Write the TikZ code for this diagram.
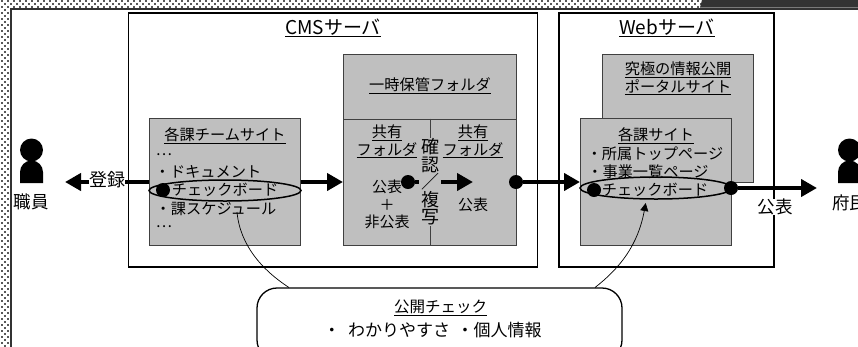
\documentclass[tikz,border=0pt]{standalone}
\usepackage{fontspec}
\setmainfont{Noto Sans CJK JP}
\usetikzlibrary{arrows.meta,shapes.geometric,calc}
\newcommand{\tightlines}{\setlength{\lineskiplimit}{-100pt}}
\tikzset{
 box/.style={draw=black,line width=1.6pt,fill=white,inner sep=0pt},
 gbox/.style={draw=black!75,line width=1pt,fill=black!25,inner sep=0pt},
 lab/.style={font=\fontsize{15.2}{17.5}\selectfont\tightlines,inner sep=0pt,align=center},
 small/.style={font=\fontsize{15}{17.5}\selectfont\tightlines,inner sep=0pt,align=center},
 big/.style={font=\fontsize{17.5}{20}\selectfont,inner sep=0pt,align=center},
 head/.style={font=\fontsize{19}{22}\selectfont,inner sep=0pt,align=center},
 fat/.style={line width=4.5pt,-{Triangle[length=16pt,width=17pt]}},
 fatline/.style={line width=4.5pt},
 dot/.style={circle,fill=black,draw=none,minimum size=14pt,inner sep=0pt},
 ring/.style={ellipse,draw=black,line width=1.5pt,inner sep=0pt},
 thincurve/.style={draw=black,line width=.7pt},
}
\newcommand{\ul}[1]{\underline{#1}}
\begin{document}
\begin{tikzpicture}[x=1pt,y=-1pt]
\useasboundingbox (0,0) rectangle (858,346);
% dotted margin
\foreach \r in {0,...,115}{
  \pgfmathtruncatemacro{\off}{mod(\r,2)*3}
  \foreach \c in {0,1}{
    \fill[black!65] ({\off+1+6*\c},{3*\r}) rectangle +(2,2);
  }
}
\foreach \r in {0,1,2}{
  \pgfmathtruncatemacro{\off}{mod(\r,2)*3}
  \foreach \c in {2,...,116}{
    \fill[black!65] ({\off+1+6*\c},{3*\r}) rectangle +(2,2);
  }
}
\fill[white] (11,9) rectangle (859,347);
\draw[black!80,line width=1.8pt] (11,347) -- (11,9) -- (859,9);
\fill[black!80] (700,7.5) -- (702,0) -- (859,0) -- (859,7.5) -- cycle;

% servers
\node[box,minimum width=409pt,minimum height=254pt] (cms) at (333,140) {};
\node[box,minimum width=215pt,minimum height=254pt] (web) at (666.5,140) {};
\node[head] (cmst) at (333,28) {\ul{CMSサーバ}};
\node[head] (webt) at (667,28) {\ul{Webサーバ}};

% team site
\node[gbox,minimum width=151pt,minimum height=127pt] (team) at (225,182) {};
\node[lab] (teamt) at (225,136) {\ul{各課チームサイト}};
\node[lab] (t1) at (164,155) {…};
\node[lab] (t2) at (208,172) {・ドキュメント};
\node[lab] (t3) at (225,190) {チェックボード};
\node[lab] (t4) at (216,208.5) {・課スケジュール};
\node[lab] (t5) at (164,227) {…};
\node[ring,minimum width=152pt,minimum height=21pt] (e1) at (225,190.5) {};
\node[dot] (d1) at (163,190) {};

% temp folder
\node[gbox,minimum width=173pt,minimum height=65pt] (tmp) at (430,86.5) {};
\node[lab] (tmpt) at (430,86) {\ul{一時保管フォルダ}};
\node[gbox,minimum width=173pt,minimum height=126pt] (fold) at (430,182) {};
\draw[black!75,line width=1pt] (fold.north) -- (fold.south);
\node[lab] (f1) at (387,141.5) {\ul{共有}\\\ul{フォルダ}};
\node[lab] (f2) at (473,141.5) {\ul{共有}\\\ul{フォルダ}};
\node[small] (f3) at (387,204.5) {公表\\＋\\非公表};
\node[small] (f4) at (473,204.5) {公表};
\node[lab,fill=black!25,inner ysep=1pt,font=\fontsize{18}{17.5}\selectfont\tightlines] (kak) at (430,182) {確\\認\\／\\複\\写};
\node[dot] (d2) at (408,182) {};
\coordinate (ar2s) at (441,182);
\coordinate (ar2e) at (473,182);
\coordinate (ar2l) at (419,182);
\draw[fat] (ar2s) -- (ar2e);
\draw[fatline] (d2) -- (ar2l);

% web portal
\node[gbox,minimum width=151pt,minimum height=128pt] (portal) at (677.5,118) {};
\node[lab] (pt) at (678,78) {\ul{究極の情報公開}\\[.5pt]\ul{ポータルサイト}};
\node[gbox,minimum width=151pt,minimum height=127pt] (site) at (656,182) {};
\node[lab] (st) at (656,136) {\ul{各課サイト}};
\node[lab] (s1) at (655,153.5) {・所属トップページ};
\node[lab] (s2) at (648,172) {・事業一覧ページ};
\node[lab] (s3) at (655,190) {チェックボード};
\node[ring,minimum width=152pt,minimum height=22pt] (e2) at (656,188) {};
\node[dot] (d3) at (594,190) {};
\node[dot] (d4) at (731,188) {};

% people
\fill[black] (31.5,150) circle (11.5pt);
\fill[black] (20,183) -- (20,172) arc (180:360:11.5) -- (43,183) -- cycle;
\fill[black] (849.5,150) circle (11.5pt);
\fill[black] (838,183) -- (838,172) arc (180:360:11.5) -- (861,183) -- cycle;
\node[big] (p1) at (31,201.5) {職員};
\node[big,anchor=west] (p2) at (832,203) {府民};
\node[big,fill=white,inner xsep=0pt] (pub) at (775,207) {公表};
\node[big,font=\fontsize{18}{20}\selectfont] (reg) at (107,180) {登録};

% arrows
\coordinate (leftend) at (65,182);
\coordinate (regw) at (89,182);
\coordinate (rege) at (125,182);
\draw[fat] (regw) -- (leftend);
\draw[fatline] (rege) -- (team.west |- rege);
\draw[fat] (team.east |- fold.west) -- (fold.west);
\node[dot] (d5) at (516,182) {};
\draw[fat] (d5) -- (site.west |- d5);
\coordinate (rightend) at (817,188);
\draw[fat] (d4) -- (rightend);

% check box
\node[box,line width=1.3pt,rounded corners=20pt,minimum width=365pt,minimum height=72pt] (chk) at (439.5,324) {};
\node[lab,font=\fontsize{15.5}{18}\selectfont] (c1) at (440.7,308) {\ul{公開チェック}};
\node[lab,font=\fontsize{17}{20}\selectfont] (c2) at (432.5,330.5) {・\hspace{8pt}わかりやすさ\hspace{6.5pt}・個人情報};
\coordinate (cl) at (289,287.5);
\coordinate (cr) at (595,287.5);
\coordinate (tl) at (237,212);
\coordinate (tr) at (645.7,203);
\draw[thincurve] (cl) .. controls (262,270) and (240,245) .. (tl);
\draw[thincurve,-{Triangle[length=8pt,width=8pt]}] (cr) .. controls (620,268) and (638,245) .. (tr);
\end{tikzpicture}
\end{document}
